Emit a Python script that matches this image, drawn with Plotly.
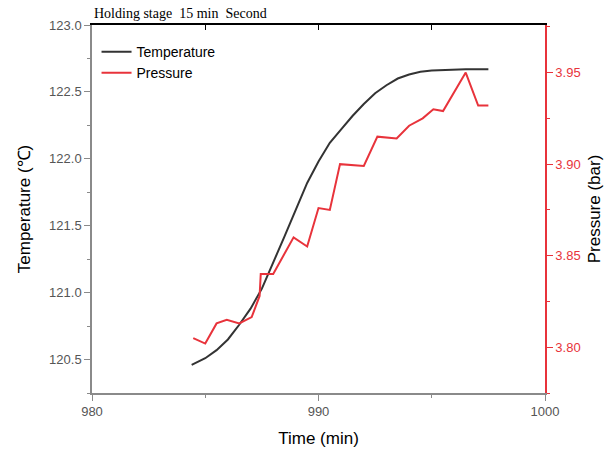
import plotly.graph_objects as go

time_temp = [984.4, 985.0, 985.5, 986.0, 986.5, 987.0, 987.5, 988.0, 988.5, 989.0,
             989.5, 990.0, 990.5, 991.0, 991.5, 992.0, 992.5, 993.0, 993.5, 994.0,
             994.5, 995.0, 995.5, 996.0, 996.5, 997.0, 997.5]
temperature = [120.46, 120.51, 120.57, 120.65, 120.76, 120.88, 121.03, 121.22, 121.42, 121.62,
               121.82, 121.98, 122.12, 122.22, 122.32, 122.41, 122.49, 122.55, 122.60, 122.63,
               122.65, 122.66, 122.665, 122.67, 122.67, 122.67, 122.67]

time_press = [984.47, 985.0, 985.5, 985.95, 986.5, 987.05, 987.4, 987.45, 988.0, 988.9,
              989.5, 990.0, 990.5, 990.95, 992.0, 992.6, 993.45, 994.0, 994.6, 995.07,
              995.5, 996.5, 997.05, 997.5]
pressure = [3.805, 3.802, 3.813, 3.815, 3.813, 3.8165, 3.828, 3.840, 3.840, 3.860,
            3.855, 3.876, 3.875, 3.900, 3.899, 3.915, 3.914, 3.921, 3.925, 3.930,
            3.929, 3.950, 3.932, 3.932]

red = "#e8333b"
grey = "#8a8a8a"
tickgrey = "#555555"

fig = go.Figure()
fig.add_trace(go.Scatter(x=time_temp, y=temperature, mode="lines", name="Temperature",
                         line=dict(color="#333333", width=2)))
fig.add_trace(go.Scatter(x=time_press, y=pressure, mode="lines", name="Pressure",
                         line=dict(color=red, width=2), yaxis="y2"))
fig.add_trace(go.Scatter(x=[980], y=[123.5], xaxis="x2", mode="markers", showlegend=False,
                         hoverinfo="skip", marker=dict(opacity=0)))

fig.update_layout(
    width=608, height=457,
    margin=dict(l=92, r=63, t=25, b=64),
    paper_bgcolor="white", plot_bgcolor="white",
    font=dict(family="Arial, Liberation Sans, sans-serif", size=13, color="black"),
    showlegend=True,
    legend=dict(x=0.01, y=0.97, xanchor="left", yanchor="top", bgcolor="rgba(0,0,0,0)",
                font=dict(size=14, color="black"), tracegroupgap=0, itemwidth=30),
    xaxis=dict(range=[980, 1000], dtick=10, tick0=980, showgrid=False, zeroline=False,
               showline=True, linecolor=grey, linewidth=1.5, automargin=False,
               ticks="outside", ticklen=6, tickcolor=grey,
               minor=dict(dtick=5, ticks="outside", ticklen=3, tickcolor=grey),
               tickfont=dict(size=13, color=tickgrey),
               title=dict(text="Time (min)", font=dict(size=17, color="black"), standoff=14)),
    xaxis2=dict(range=[980, 1000], overlaying="x", side="top", showgrid=False,
                zeroline=False, showline=True, linecolor="black", linewidth=1.5,
                ticks="inside", ticklen=5, tickcolor="black", dtick=5, tick0=980,
                showticklabels=False, automargin=False),
    yaxis=dict(range=[120.25, 123.0], dtick=0.5, tick0=120, tickformat=".1f", showgrid=False,
               zeroline=False, showline=True, linecolor=grey, linewidth=1.5, automargin=False,
               ticks="outside", ticklen=6, tickcolor=grey,
               minor=dict(dtick=0.25, ticks="outside", ticklen=3, tickcolor=grey),
               tickfont=dict(size=13, color=tickgrey),
               title=dict(text="Temperature (℃)", font=dict(size=17, color="black"), standoff=14)),
    yaxis2=dict(range=[3.775, 3.976], dtick=0.05, tick0=3.8, tickformat=".2f", overlaying="y",
                side="right", showgrid=False, zeroline=False, showline=True, linecolor=red,
                linewidth=1.5, ticks="outside", ticklen=6, tickcolor=red, automargin=False,
                minor=dict(dtick=0.025, ticks="outside", ticklen=3, tickcolor=red),
                tickfont=dict(size=13, color=red),
                title=dict(text="Pressure (bar)", font=dict(size=17, color="black"), standoff=8)),
    annotations=[dict(text="Holding stage  15 min  Second", xref="paper", yref="paper",
                      x=0.0, y=1.0, xanchor="left", yanchor="bottom", showarrow=False,
                      yshift=2, font=dict(family="Liberation Serif, Times New Roman, serif",
                                          size=14, color="black"))],
)

fig.write_html("out.html")
